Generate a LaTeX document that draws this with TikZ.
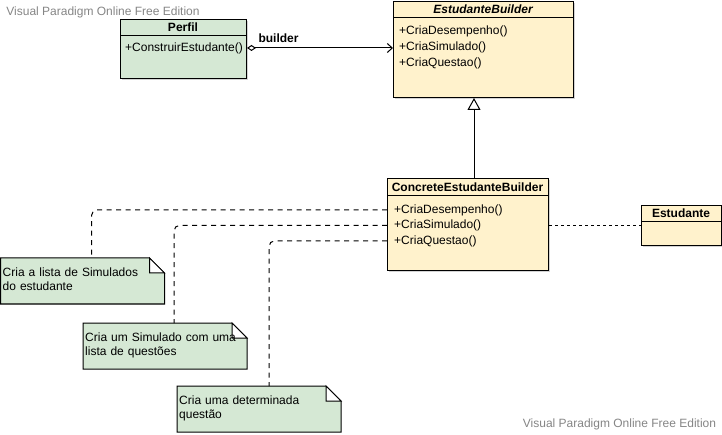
\documentclass[tikz,border=0pt]{standalone}
\usepackage{fontspec}
\setmainfont{Liberation Sans}
\usetikzlibrary{arrows.meta,shadows}

\definecolor{notegreen}{HTML}{D5E8D4}
\definecolor{classyellow}{HTML}{FFF2CC}
\definecolor{watermark}{HTML}{858585}

\tikzset{
  umlfont/.style={font=\fontsize{12}{14}\selectfont},
  classbox/.style={draw,line width=1pt,anchor=north west,inner sep=0pt,
    drop shadow={shadow xshift=1.5pt,shadow yshift=-1.5pt,opacity=0.35}},
  classname/.style={inner sep=0pt,font=\fontsize{12}{14}\selectfont\bfseries},
  member/.style={anchor=west,inner sep=0pt,umlfont},
  notetext/.style={anchor=north west,inner xsep=2pt,inner ysep=9.5pt,text width=160pt,align=left,umlfont},
  noteline/.style={line width=1pt,dash pattern=on 5pt off 4.5pt,rounded corners=5pt},
  depline/.style={line width=1pt,dash pattern=on 3pt off 3pt},
  wmtext/.style={inner sep=0pt,text=watermark,umlfont},
}

%% note with folded corner: name, x, y, text
\newcommand{\umlnote}[4]{%
  \draw[line width=1pt,fill=notegreen] (#2,#3) -- ++(149,0) -- ++(15,15) -- ++(0,31) -- ++(-164,0) -- cycle;
  \draw[line width=1pt,fill=white] (#2+149,#3) -- ++(0,15) -- ++(15,0) -- cycle;
  \node[notetext] (#1) at (#2,#3) {#4};
}

\begin{document}
\begin{tikzpicture}[x=1pt,y=-1pt]
  \useasboundingbox (0,0) rectangle (722,435);
  %% watermarks
  \node[wmtext] (wmTop) at (103,12) {Visual Paradigm Online Free Edition};
  \node[wmtext] (wmBottom) at (619.5,424) {Visual Paradigm Online Free Edition};

  %% Perfil
  \node[classbox,fill=notegreen,minimum width=126pt,minimum height=59pt] (pf) at (120,19) {};
  \draw[line width=1pt] (120,36) -- (246,36);
  \node[classname] (pfName) at (183,27.5) {Perfil};
  \node[member] (pfBuild) at (125,48) {+ConstruirEstudante()};

  %% EstudanteBuilder
  \node[classbox,fill=classyellow,minimum width=180pt,minimum height=96pt] (eb) at (393,1) {};
  \draw[line width=1pt] (393,18) -- (573,18);
  \node[classname,font=\fontsize{12}{14}\selectfont\bfseries\itshape] (ebName) at (483,9.5) {EstudanteBuilder};
  \node[member] (ebDes) at (399,31.5) {+CriaDesempenho()};
  \node[member] (ebSim) at (399,47.5) {+CriaSimulado()};
  \node[member] (ebQue) at (399,63) {+CriaQuestao()};

  %% ConcreteEstudanteBuilder
  \node[classbox,fill=classyellow,minimum width=161pt,minimum height=92pt] (ceb) at (387,178) {};
  \draw[line width=1pt] (387,196) -- (548,196);
  \node[classname] (cebName) at (467.5,187) {ConcreteEstudanteBuilder};
  \node[member] (cebDes) at (394,210) {+CriaDesempenho()};
  \node[member] (cebSim) at (394,225.5) {+CriaSimulado()};
  \node[member] (cebQue) at (394,241) {+CriaQuestao()};

  %% Estudante
  \node[classbox,fill=classyellow,minimum width=80pt,minimum height=40pt] (est) at (641,205) {};
  \draw[line width=1pt] (641,222) -- (721,222);
  \node[classname] (estName) at (681,213.5) {Estudante};

  %% notes
  \umlnote{nList}{0.5}{258}{Cria a lista de Simulados\\do estudante}
  \umlnote{nSim}{83}{323}{Cria um Simulado com uma\\lista de questões}
  \umlnote{nQue}{177}{386}{Cria uma determinada\\questão}

  %% connectors
  \draw[line width=1pt,{Diamond[open,length=9pt,width=6pt]}-{Straight Barb[length=5pt,width=9pt]}]
    (pfBuild -| pf.east) -- (pfBuild -| eb.west)
    node[pos=0,anchor=south west,inner sep=0pt,xshift=11pt,yshift=5pt,classname] (lblBuilder) {builder};
  \draw[line width=1pt,-{Triangle[open,length=12pt,width=13pt]}]
    ([xshift=6pt]ceb.north) -- ([xshift=6pt]ceb.north |- eb.south);
  \draw[depline] (cebSim -| ceb.east) -- (cebSim -| est.west);
  \draw[noteline] (cebDes -| ceb.west) -| ([xshift=9pt]nList.north);
  \draw[noteline] (cebSim -| ceb.west) -| ([xshift=9pt]nSim.north);
  \draw[noteline] (cebQue -| ceb.west) -| ([xshift=10pt]nQue.north);
\end{tikzpicture}
\end{document}
